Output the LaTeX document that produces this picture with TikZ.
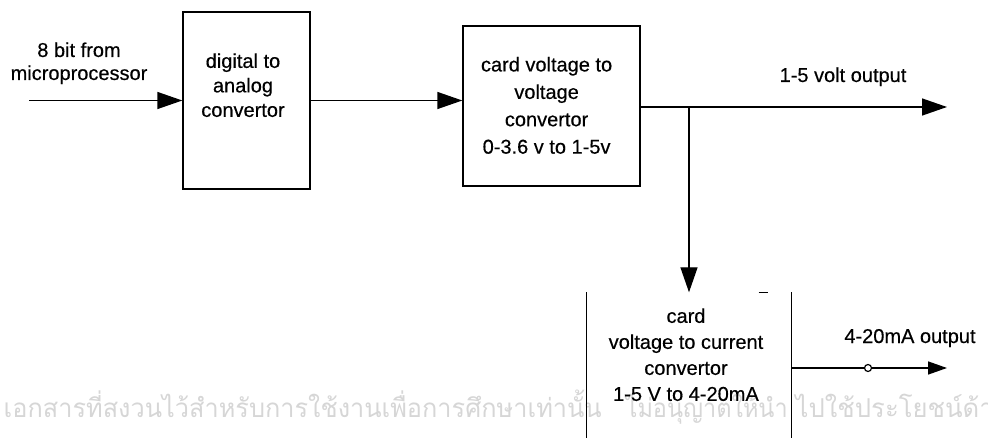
\documentclass[tikz,border=0pt]{standalone}
\usepackage{fontspec}
\setmainfont{Liberation Sans}[FakeBold=0.4]
\newfontfamily\thaifont[Script=Thai]{Loma}
\usetikzlibrary{arrows.meta}
\begin{document}
\begin{tikzpicture}[x=1pt,y=-1pt,
  line width=1.4pt,
  blockbox/.style={draw, inner sep=0pt},
  lbl/.style={inner sep=0pt, align=center},
  wmark/.style={anchor=base west, inner sep=0pt, text=black!16, font=\thaifont\fontsize{26}{26}\selectfont},
  arr/.style={-{Triangle[length=25pt,width=17pt]}},
  arrsmall/.style={-{Triangle[length=19pt,width=13pt]}}]
\useasboundingbox (0,0) rectangle (988,438);
\begin{scope}
\clip (0,0) rectangle (988,438);
\node[wmark] (wm1) at (3,417) {\resizebox{598pt}{\height}{เอกสารที่สงวนไว้สำหรับการใช้งานเพื่อการศึกษาเท่านั้น}};
\node[wmark] (wm2) at (625,417) {\resizebox{162pt}{\height}{ไม่อนุญาตให้นำ}};
\node[wmark] (wm3) at (795,417) {\resizebox{198pt}{\height}{ไปใช้ประโยชน์ด้า}};
\end{scope}
% blocks
\node[blockbox, minimum width=127pt, minimum height=177pt] (dac) at (246.5,100.5) {};
\node[blockbox, minimum width=177pt, minimum height=160pt] (vv) at (551.5,106) {};
\node[inner sep=0pt, minimum width=204pt, minimum height=145pt] (vi) at (689,365.5) {};
\draw (vi.north west) -- (vi.south west);
\draw (vi.north east) -- (vi.south east);
\draw ([xshift=-33pt]vi.north east) -- ([xshift=-24pt]vi.north east);
% texts
\node[lbl, font=\fontsize{20}{23}\selectfont] (inl) at (79,63.3) {8 bit from\\microprocessor};
\node[lbl, font=\fontsize{20}{24.5}\selectfont] (dact) at (243,85.2) {digital to\\analog\\convertor};
\node[lbl, font=\fontsize{20}{27.4}\selectfont] (vvt) at (546.6,105.4) {card voltage to\\voltage\\convertor\\0-3.6 v to 1-5v};
\node[lbl, font=\fontsize{20}{26}\selectfont] (vit) at (686,354.7) {card\\voltage to current\\convertor\\1-5 V to 4-20mA};
\node[anchor=base, inner sep=0pt, font=\fontsize{20}{24}\selectfont] (ol1) at (843,82) {1-5 volt output};
\node[anchor=base, inner sep=0pt, font=\fontsize{20}{24}\selectfont] (ol2) at (910,343) {4-20mA output};
% connectors
\coordinate (src) at (29,100.5);
\draw[arr] (src) -- (dac.west);
\draw[arr] (dac.east) -- (dac.east -| vv.west);
\coordinate (j) at (689,107);
\coordinate (out1) at (947,107);
\draw[arr] (vv.east |- j) -- (out1);
\draw[arr] (j) -- (vi.north);
\coordinate (out2) at (947,368);
\node[circle, draw, line width=1.2pt, fill=white, inner sep=0pt, minimum size=7pt] (tp) at (868,368) {};
\draw (vi.east |- out2) -- (tp);
\draw[arrsmall] (tp) -- (out2);
\end{tikzpicture}
\end{document}
